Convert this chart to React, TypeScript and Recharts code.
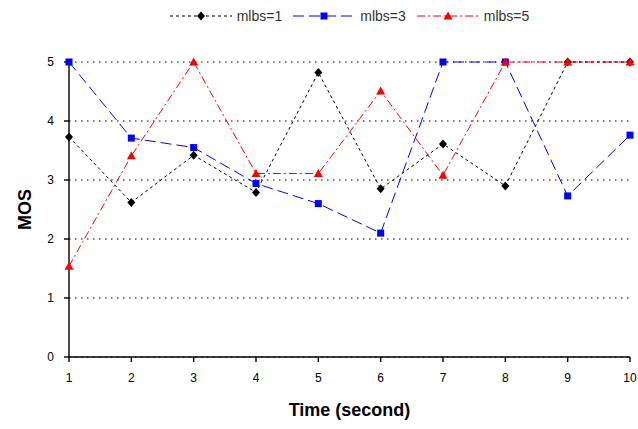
import { LineChart, Line, XAxis, YAxis, CartesianGrid, Legend, Label } from 'recharts';

const TIME = [1, 2, 3, 4, 5, 6, 7, 8, 9, 10];
const MLBS_1 = [3.73, 2.62, 3.42, 2.79, 4.82, 2.85, 3.61, 2.9, 5.0, 5.0];
const MLBS_3 = [5.0, 3.71, 3.55, 2.94, 2.6, 2.1, 5.0, 5.0, 2.73, 3.76];
const MLBS_5 = [1.54, 3.41, 5.0, 3.11, 3.11, 4.51, 3.08, 5.0, 5.0, 5.0];
const MOS_TICKS = [0, 1, 2, 3, 4, 5];

const data = TIME.map((t, i) => ({ t, m1: MLBS_1[i], m3: MLBS_3[i], m5: MLBS_5[i] }));

const FONT = '"Liberation Sans", Arial, sans-serif';

type MarkerKind = 'diamond' | 'square' | 'triangle';

const SERIES: { key: string; name: string; color: string; dash: string; marker: MarkerKind }[] = [
  { key: 'm1', name: 'mlbs=1', color: '#000000', dash: '3 3', marker: 'diamond' },
  { key: 'm3', name: 'mlbs=3', color: '#0000ff', dash: '11 5', marker: 'square' },
  { key: 'm5', name: 'mlbs=5', color: '#ff0000', dash: '8 3 2 3', marker: 'triangle' },
];

function Marker({ cx, cy, kind, color }: { cx: number; cy: number; kind: MarkerKind; color: string }) {
  if (kind === 'diamond') {
    return <path d={`M${cx},${cy - 4.5}L${cx + 4},${cy}L${cx},${cy + 4.5}L${cx - 4},${cy}Z`} fill={color} />;
  }
  if (kind === 'square') {
    return <rect x={cx - 3.5} y={cy - 3.5} width={7} height={7} fill={color} />;
  }
  return <path d={`M${cx},${cy - 4.5}L${cx + 4.5},${cy + 3.5}L${cx - 4.5},${cy + 3.5}Z`} fill={color} />;
}

function LegendContent() {
  return (
    <div
      style={{
        display: 'flex',
        justifyContent: 'center',
        alignItems: 'center',
        height: 24,
        fontFamily: FONT,
        fontSize: 14,
        color: '#333',
      }}
    >
      {SERIES.map((s, i) => (
        <div key={s.key} style={{ display: 'flex', alignItems: 'center', marginRight: i < SERIES.length - 1 ? 11 : 0 }}>
          <svg width={62} height={12}>
            <line x1={0} y1={6} x2={62} y2={6} stroke={s.color} strokeDasharray={s.dash} />
            <Marker cx={31} cy={6} kind={s.marker} color={s.color} />
          </svg>
          <span style={{ marginLeft: 5 }}>{s.name}</span>
        </div>
      ))}
    </div>
  );
}

export default function App() {
  return (
    <div style={{ position: 'absolute', left: 0, top: 0 }}>
      <LineChart width={638} height={429} data={data} margin={{ top: 38, right: 8, bottom: 12, left: 29 }}>
        <CartesianGrid vertical={false} stroke="#000" strokeDasharray="1.5 4.5" />
        <XAxis
          dataKey="t"
          type="number"
          domain={[1, 10]}
          ticks={TIME}
          interval={0}
          height={60}
          stroke="#000"
          strokeWidth={1.4}
          tickSize={5}
          tickMargin={11}
          tick={{ fontSize: 12, fontFamily: FONT, fill: '#000' }}
        >
          <Label
            value="Time (second)"
            position="insideBottom"
            offset={1}
            style={{ fontSize: 18, fontWeight: 'bold', fontFamily: FONT, fill: '#000' }}
          />
        </XAxis>
        <YAxis
          type="number"
          domain={[0, 5]}
          ticks={MOS_TICKS}
          interval={0}
          width={40}
          stroke="#000"
          strokeWidth={1.4}
          tickSize={5}
          tickMargin={10}
          tick={{ fontSize: 12, fontFamily: FONT, fill: '#000' }}
        >
          <Label
            value="MOS"
            angle={-90}
            position="insideLeft"
            offset={-4}
            style={{ fontSize: 18, fontWeight: 'bold', fontFamily: FONT, fill: '#000', textAnchor: 'middle' }}
          />
        </YAxis>
        <Legend verticalAlign="top" content={<LegendContent />} wrapperStyle={{ top: 4, left: 69, width: 561 }} />
        {SERIES.map((s) => (
          <Line
            key={s.key}
            dataKey={s.key}
            name={s.name}
            stroke={s.color}
            strokeWidth={1}
            strokeDasharray={s.dash}
            isAnimationActive={false}
            dot={(p: any) => <Marker key={`${s.key}-${p.index}`} cx={p.cx} cy={p.cy} kind={s.marker} color={s.color} />}
            activeDot={false}
          />
        ))}
      </LineChart>
    </div>
  );
}
